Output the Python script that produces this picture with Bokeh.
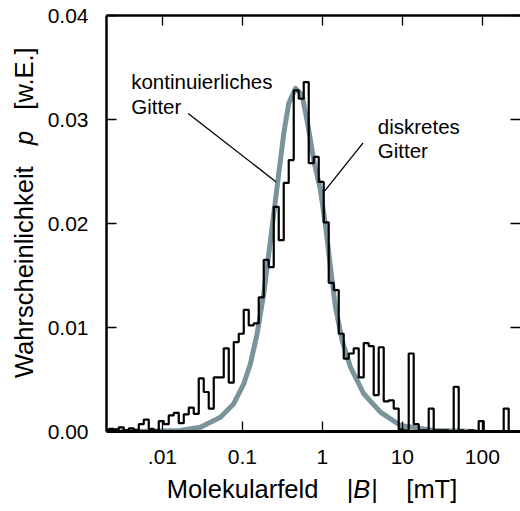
import numpy as np
from bokeh.plotting import figure
from bokeh.layouts import row, column
from bokeh.models import (Range1d, FixedTicker, NumeralTickFormatter, LinearAxis,
                          LogAxis, Div, CustomJSTickFormatter)
from bokeh.core.properties import value
from bokeh.embed import file_html
from bokeh.resources import INLINE

FONT = "Liberation Sans"

# ---------------- data ----------------
x_ticks = [0.01, 0.1, 1, 10, 100]
x_tick_labels = [".01", "0.1", "1", "10", "100"]
y_ticks = [0.0, 0.01, 0.02, 0.03, 0.04]

# continuous lattice (grey curve)
curve_B = [0.00308, 0.0071, 0.0168, 0.0299, 0.0532, 0.078, 0.104, 0.126, 0.153,
           0.185, 0.214, 0.247, 0.285, 0.329, 0.380, 0.461, 0.558, 0.660, 0.780,
           0.946, 1.093, 1.262, 1.457, 1.767, 2.244, 3.29, 5.32, 9.46, 24.7, 82.0]
curve_p = [0.0, 0.00002, 0.0001, 0.00041, 0.00138, 0.00267, 0.00459, 0.00652,
           0.00941, 0.01326, 0.01711, 0.02096, 0.02481, 0.02866, 0.03155, 0.03299,
           0.03235, 0.02946, 0.02609, 0.02320, 0.01983, 0.01582, 0.01197, 0.00876,
           0.00619, 0.00363, 0.00186, 0.00058, 0.0001, 0.0]

# discrete lattice (histogram, 16 bins per decade)
hist_log_start = -2.733
hist_bins_per_decade = 16
hist_p = [0.0001, 0.00025, 0.0002, 0.0004, 0.0001, 0.0003, 0.00015, 0.0007,
          0.00115, 0.00025, 0.0001, 0.001, 0.0007, 0.00155, 0.0018, 0.0008,
          0.00165, 0.0023, 0.0017, 0.0051, 0.0038, 0.0022, 0.0052, 0.0052,
          0.0080, 0.0047, 0.0086, 0.0094, 0.0117, 0.0102, 0.0104, 0.0129,
          0.0165, 0.0158, 0.0216, 0.0184, 0.0239, 0.0261, 0.0328, 0.0320,
          0.0336, 0.0258, 0.0264, 0.0240, 0.0201, 0.0143, 0.0136, 0.0094,
          0.0070, 0.0075, 0.0080, 0.0052, 0.0085, 0.0082, 0.0035, 0.0081,
          0.0029, 0.0030, 0.0022, 0.0002, 0.0001, 0.0075, 0.0007, 0.0001,
          0.0001, 0.0022, 0.0001, 0.0001, 0.0001, 0.0, 0.0043, 0.0001,
          0.0, 0.0001, 0.0, 0.0010, 0.0, 0.0, 0.0, 0.0,
          0.0022, 0.0, 0.0, 0.0]

# annotations
note_text = ["kontinuierliches", "Gitter", "diskretes", "Gitter"]
note_B = [0.00407, 0.00407, 4.925, 4.925]
note_p = [0.03369, 0.03129, 0.02936, 0.02698]
leader_B0 = [0.0210, 3.23]
leader_p0 = [0.03058, 0.02776]
leader_B1 = [0.264, 1.071]
leader_p1 = [0.0240, 0.02313]

x_title_html = "Molekularfeld    |<i style=\"padding-right:1px\">B</i>|    [mT]"
y_title_html = "Wahrscheinlichkeit   <i>p</i>   [w.E.]"

# ---------------- figure ----------------
p = figure(width=480, height=476, x_axis_type="log",
           x_range=Range1d(0.002, 300), y_range=Range1d(0, 0.04),
           output_backend="svg", toolbar_location=None,
           x_axis_location=None, y_axis_location=None,
           min_border_left=66, min_border_right=0,
           min_border_top=15, min_border_bottom=45, margin=(0, 0, 0, 0))
p.outline_line_color = None
p.grid.grid_line_color = None
p.background_fill_color = "white"
p.border_fill_color = "white"


def style(ax, labels=True):
    ax.major_tick_in = 10
    ax.major_tick_out = 0
    ax.minor_tick_line_color = None
    ax.major_tick_line_color = "black"
    ax.major_tick_line_width = 1.3
    ax.axis_line_color = "black"
    ax.axis_line_width = 2.5
    ax.major_label_text_font = FONT
    ax.major_label_text_color = "black"
    if labels:
        ax.major_label_text_font_size = "21px"
    else:
        ax.major_label_text_font_size = "1px"
        ax.major_label_text_color = None
        ax.major_label_standoff = 0


fmt_code = "const m = %s; return m[String(tick)] ?? '';" % (
    "{" + ", ".join("'%s': '%s'" % (repr(t), l) for t, l in zip(x_ticks, x_tick_labels)) + "}")
bottom = LogAxis(ticker=FixedTicker(ticks=x_ticks),
                 formatter=CustomJSTickFormatter(code=fmt_code))
style(bottom)
bottom.major_label_standoff = 18
bottom.axis_line_width = 3
p.add_layout(bottom, "below")

top = LogAxis(ticker=FixedTicker(ticks=x_ticks),
              formatter=CustomJSTickFormatter(code="return '.';"))
style(top, labels=False)
p.add_layout(top, "above")

left = LinearAxis(ticker=FixedTicker(ticks=y_ticks),
                  formatter=NumeralTickFormatter(format="0.00"))
style(left)
left.major_label_standoff = 18
p.add_layout(left, "left")

right = LinearAxis(ticker=FixedTicker(ticks=y_ticks),
                   formatter=CustomJSTickFormatter(code="return '.';"))
style(right, labels=False)
right.axis_line_color = None
p.add_layout(right, "right")

# grey curve (continuous lattice)
p.line(curve_B, curve_p, line_color="#7b939a", line_width=5,
       line_join="round", line_cap="round")

# histogram (discrete lattice)
edges = 10 ** (hist_log_start + np.arange(len(hist_p) + 1) / hist_bins_per_decade)
step_y = list(hist_p) + [hist_p[-1]]
p.step(edges, step_y, mode="after", line_color="black", line_width=2.2)

# leader lines and notes
p.segment(leader_B0, leader_p0, leader_B1, leader_p1, line_color="black", line_width=1.3)
p.text(note_B, note_p, text=note_text, text_font=value(FONT),
       text_font_size=value("20.5px"), text_baseline="alphabetic",
       text_align="left", text_color="black")

# axis titles (HTML so that the symbols can be italic)
TXT = ("font-family:'Liberation Sans'; font-size:25.5px; line-height:25.5px; "
       "color:black; white-space:pre;")
xdiv = Div(width=480, height=35, margin=(0, 0, 0, 0),
           text='<div style="%s padding-left:126.7px; padding-top:1.4px;">%s</div>'
                % (TXT, x_title_html))
ydiv = Div(width=40, height=511, margin=(0, 0, 0, 0),
           text='<div style="%s position:absolute; left:11.7px; top:378px; '
                'transform-origin:0 0; transform:rotate(-90deg);">%s</div>'
                % (TXT, y_title_html))

layout = row(ydiv, column(p, xdiv, spacing=0), spacing=0)
open("out.html", "w").write(file_html(layout, INLINE))
